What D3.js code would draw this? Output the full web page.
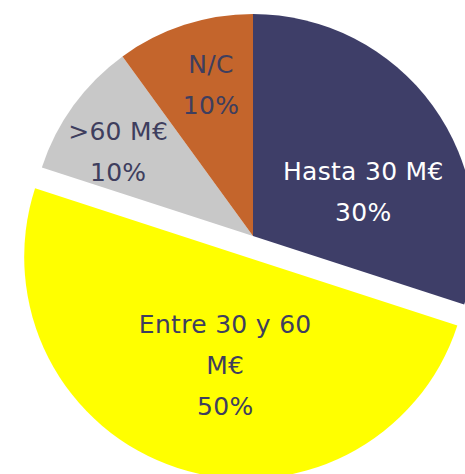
<!DOCTYPE html>
<meta charset="utf-8">
<head>
<script src="https://d3js.org/d3.v7.min.js"></script>
<style>
  body { margin: 0; background: #fff; }
</style>
</head>
<body>
<div id="chart"></div>
<script>
  // data
  var categories = ["Hasta 30 M€", "Entre 30 y 60 M€", ">60 M€", "N/C"];
  var values = [30, 50, 10, 10];
  var labelLines = [["Hasta 30 M€", "30%"], ["Entre 30 y 60", "M€", "50%"], [">60 M€", "10%"], ["N/C", "10%"]];

  // look
  var colors = ["#3e3e68", "#ffff00", "#c8c8c8", "#c4652c"];
  var textColors = ["#ffffff", "#3e3e5e", "#3e3e5e", "#3e3e5e"];
  var explode = [0, 22, 0, 0];
  // label placement: radius and angle shift (degrees) relative to slice middle
  var labelPos = [{r: 119, shift: 14}, {r: 110, shift: -7}, {r: 159, shift: -4}, {r: 157, shift: 2.5}];

  var width = 465, height = 474;
  var cx = 253, cy = 236, radius = 222;

  var svg = d3.select("#chart")
    .append("svg")
      .attr("width", width)
      .attr("height", height)
    .append("g")
      .attr("transform", "translate(" + cx + "," + cy + ")");

  var pie = d3.pie().sort(null).value(function(d){ return d; });
  var arcs = pie(values);

  var arc = d3.arc().innerRadius(0).outerRadius(radius);

  var slices = svg.selectAll("g.slice")
    .data(arcs)
    .enter()
    .append("g")
      .attr("class", "slice")
      .attr("transform", function(d, i){
        var mid = (d.startAngle + d.endAngle) / 2;
        var p = d3.pointRadial(mid, explode[i]);
        return "translate(" + p[0] + "," + p[1] + ")";
      });

  slices.append("path")
    .attr("d", arc)
    .style("fill", function(d, i){ return colors[i]; });

  // labels, one tspan per line
  var lineH = 41;
  slices.append("text")
    .attr("font-family", "DejaVu Sans, Verdana, sans-serif")
    .attr("font-size", "25px")
    .attr("letter-spacing", "0.3px")
    .attr("text-anchor", "middle")
    .attr("fill", function(d, i){ return textColors[i]; })
    .each(function(d, i){
      var mid = (d.startAngle + d.endAngle) / 2 + labelPos[i].shift * Math.PI / 180;
      var p = d3.pointRadial(mid, labelPos[i].r);
      var lines = labelLines[i];
      var top = p[1] - (lines.length - 1) * lineH / 2 + 9;
      var t = d3.select(this);
      lines.forEach(function(s, k){
        t.append("tspan")
          .attr("x", p[0])
          .attr("y", top + k * lineH)
          .text(s);
      });
    });
</script>
</body>
